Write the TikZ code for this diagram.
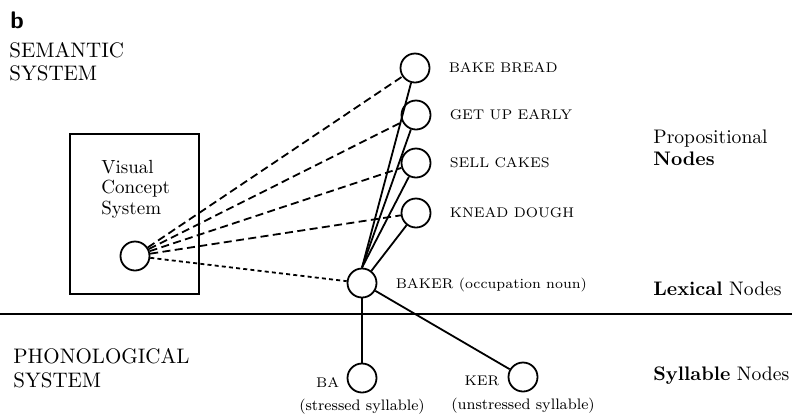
\documentclass[tikz,border=0pt]{standalone}
\usetikzlibrary{positioning}

\begin{document}
\begin{tikzpicture}[
    x=0.5pt, y=-0.5pt,
    unit/.style={circle, draw=black, line width=0.9pt, minimum size=14.5pt, inner sep=0pt},
    prop/.style={font=\fontsize{7}{8.5}\selectfont, inner sep=0pt},
    note/.style={font=\fontsize{7.6}{9}\selectfont, inner sep=0pt},
    level/.style={font=\fontsize{9.8}{11}\selectfont, anchor=base west, align=left, inner sep=0pt},
    sysname/.style={font=\fontsize{10.5}{11.5}\selectfont, anchor=base west, align=left, inner sep=0pt},
    link/.style={line width=0.9pt},
    semlink/.style={line width=0.9pt, dash pattern=on 4pt off 2.2pt},
    lexlink/.style={line width=0.9pt, dash pattern=on 2pt off 1.6pt},
    ]
    \useasboundingbox (0,0) rectangle (792,414);

    % panel letter and system names
    \node[font=\sffamily\bfseries\large, anchor=base west, inner sep=0pt] (panel) at (10,28) {b};
    \node[sysname] (semantic) at (9,80) {SEMANTIC\\SYSTEM};
    \node[sysname, font=\fontsize{10.5}{12}\selectfont] (phono) at (13,387) {PHONOLOGICAL\\SYSTEM};

    % level names
    \node[level] (propnodes) at (653,165) {Propositional\\\textbf{Nodes}};
    \node[level] (lexnodes) at (653,295) {\textbf{Lexical} Nodes};
    \node[level] (sylnodes) at (653,380) {\textbf{Syllable} Nodes};

    % visual concept system
    \node[draw, line width=1.2pt, minimum width=64.5pt, minimum height=80pt, inner sep=0pt] (vcbox) at (134.5,214) {};
    \node[font=\fontsize{9.5}{10.25}\selectfont, align=left, anchor=west, inner sep=0pt] (vctext) at (101,189) {Visual\\Concept\\System};
    \node[unit] (vc) at (135,256) {};

    % propositional nodes
    \node[unit] (p1) at (415,68)  {};
    \node[unit] (p2) at (416,115) {};
    \node[unit] (p3) at (416,163) {};
    \node[unit] (p4) at (416,213) {};
    \node[prop, right=9pt of p1] (p1label) {BAKE BREAD};
    \node[prop, right=9pt of p2] (p2label) {GET UP EARLY};
    \node[prop, right=9pt of p3] (p3label) {SELL CAKES};
    \node[prop, right=9pt of p4] (p4label) {KNEAD DOUGH};

    % lexical node
    \node[unit] (baker) at (362,283) {};
    \node[prop, right=9pt of baker, yshift=-1pt] (bakerlabel) {BAKER (occupation noun)};

    % syllable nodes
    \node[unit] (ba)  at (362,378) {};
    \node[unit] (ker) at (523,377) {};
    \node[prop, left=3.5pt of ba, yshift=-2pt]  (balabel)  {BA};
    \node[prop, left=4pt of ker, yshift=-2pt]   (kerlabel) {KER};
    \node[note, below=2.5pt of ba]  (bastress)  {(stressed syllable)};
    \node[note, below=2.5pt of ker] (kerstress) {(unstressed syllable)};

    % semantic / phonological border
    \coordinate (divl) at (0,314);
    \coordinate (divr) at (792,314);
    \draw[link] (divl) -- (divr);

    % visual concept to propositions
    \draw[semlink] (vc) -- (p1);
    \draw[semlink] (vc) -- (p2);
    \draw[semlink] (vc) -- (p3);
    \draw[semlink] (vc) -- (p4);
    \draw[lexlink] (vc) -- (baker);

    % lexical node to propositions
    \draw[link] (baker.north) -- (p1);
    \draw[link] (baker.north) -- (p2);
    \draw[link] (baker.north) -- (p3);
    \draw[link] (baker) -- (p4);

    % lexical node to syllables
    \draw[link] (baker) -- (ba);
    \draw[link] (baker) -- (ker);
\end{tikzpicture}
\end{document}
